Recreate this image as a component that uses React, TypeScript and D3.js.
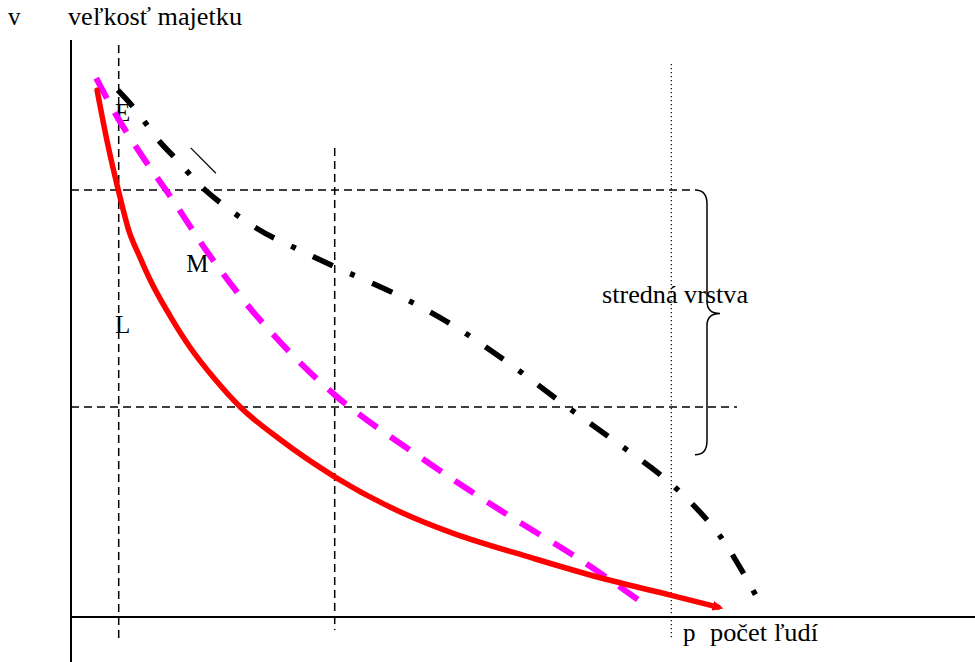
import React from "react";
import * as d3 from "d3";

// Curves: [people, wealth] in chart units (0..100)
const redCurve: [number, number][] = [
  [2.9, 91.3], [4.1, 81.8], [5.3, 73.7], [6.4, 67.1], [7.7, 62.2], [8.8, 58.4],
  [11.0, 52.2], [13.2, 46.8], [16.0, 41.2], [18.8, 36.4], [23.2, 30.8], [29.3, 24.3],
  [36.6, 18.2], [42.1, 14.7], [51.3, 10.2], [58.8, 6.8], [66.6, 3.8], [71.9, 1.7],
];
const magentaCurve: [number, number][] = [
  [2.8, 93.4], [5.2, 86.5], [8.2, 79.2], [11.3, 72.3], [15.4, 62.7], [21.0, 51.5],
  [29.3, 38.5], [38.8, 27.7], [47.7, 18.5], [56.6, 9.9], [64.0, 1.9],
];
const blackCurve: [number, number][] = [
  [5.2, 91.3], [6.9, 88.4], [9.9, 82.3], [11.6, 79.5], [14.9, 74.0], [20.8, 67.2],
  [25.1, 63.8], [29.3, 60.7], [36.3, 55.8], [42.7, 50.3], [48.8, 43.8], [54.9, 36.7],
  [60.4, 30.5], [66.6, 23.2], [71.6, 15.1], [74.3, 8.7], [76.8, 1.7],
];

// Reference lines
const verticalDashed = [5.3, 29.3];
const verticalDotted = [66.7];
const horizontalDashed = [74.0, 36.4];
const braceRange: [number, number] = [74.0, 28.1];
const slashMark: [number, number][] = [[13.3, 81.3], [16.1, 76.9]];

// Labels
const axisYLabel = "veľkosť majetku";
const axisYSymbol = "v";
const axisXSymbol = "p";
const axisXLabel = "počet ľudí";
const middleLabel = "stredná vrstva";
const pointLabels = [
  { text: "E", x: 4.9, y: 86.0 },
  { text: "M", x: 12.8, y: 59.8 },
  { text: "L", x: 4.9, y: 49.2 },
];

const W = 975;
const H = 662;

export default function App() {
  const x = d3.scaleLinear().domain([0, 100]).range([71, 971]);
  const y = d3.scaleLinear().domain([0, 100]).range([617, 40]);
  const smooth = d3
    .line<[number, number]>()
    .x((d) => x(d[0]))
    .y((d) => y(d[1]))
    .curve(d3.curveMonotoneX);
  const cr = d3
    .line<[number, number]>()
    .x((d) => x(d[0]))
    .y((d) => y(d[1]))
    .curve(d3.curveCatmullRom.alpha(0.5));

  const font = "'Times New Roman', 'Liberation Serif', Tinos, serif";
  const ts = { fontFamily: font, fontSize: 25, fill: "#000" } as React.CSSProperties;
  const bTop = y(braceRange[0]);
  const bBot = y(braceRange[1]);
  const bMid = (bTop + bBot) / 2 - 9;
  const bx0 = 695;
  const bx1 = 707;
  const bTip = 720;
  const bracePath = `M${bx0},${bTop} Q${bx1},${bTop} ${bx1},${bTop + 14} L${bx1},${bMid - 12} Q${bx1},${bMid} ${bTip},${bMid} Q${bx1},${bMid} ${bx1},${bMid + 12} L${bx1},${bBot - 14} Q${bx1},${bBot} ${bx0},${bBot}`;

  return (
    <svg
      width={W}
      height={H}
      style={{ position: "absolute", left: 0, top: 0, background: "#fff" }}
    >
      <defs>
        <marker id="arrowRed" viewBox="0 0 10 10" refX="5" refY="5" markerWidth="2" markerHeight="2" orient="auto" markerUnits="strokeWidth">
          <path d="M0,0.5 L10,5 L0,9.5 Z" fill="#ff0000" />
        </marker>
      </defs>
      <rect width={W} height={H} fill="#fff" />

      {/* axes */}
      <line x1={x(0)} x2={x(0)} y1={40} y2={H} stroke="#000" strokeWidth={2} />
      <line x1={x(0)} x2={W} y1={y(0)} y2={y(0)} stroke="#000" strokeWidth={2} />

      {/* reference lines */}
      <line x1={x(verticalDashed[0])} x2={x(verticalDashed[0])} y1={45} y2={641} stroke="#000" strokeWidth={1.5} strokeDasharray="8,5" />
      <line x1={x(verticalDashed[1])} x2={x(verticalDashed[1])} y1={148} y2={630} stroke="#000" strokeWidth={1.5} strokeDasharray="8,5" />
      <line x1={x(verticalDotted[0])} x2={x(verticalDotted[0])} y1={64} y2={640} stroke="#000" strokeWidth={1.2} strokeDasharray="1.3,2.7" />
      <line x1={x(0)} x2={bx0} y1={y(horizontalDashed[0])} y2={y(horizontalDashed[0])} stroke="#000" strokeWidth={1.5} strokeDasharray="8,5" />
      <line x1={x(0)} x2={737} y1={y(horizontalDashed[1])} y2={y(horizontalDashed[1])} stroke="#000" strokeWidth={1.5} strokeDasharray="8,5" />
      <path d={bracePath} fill="none" stroke="#000" strokeWidth={1.5} />
      <line x1={x(slashMark[0][0])} y1={y(slashMark[0][1])} x2={x(slashMark[1][0])} y2={y(slashMark[1][1])} stroke="#000" strokeWidth={1.2} />

      {/* text */}
      <text x={8} y={25} style={ts}>{axisYSymbol}</text>
      <text x={68} y={25} style={ts} textLength={174} lengthAdjust="spacingAndGlyphs">{axisYLabel}</text>
      <text x={602} y={303} style={ts} textLength={146} lengthAdjust="spacingAndGlyphs">{middleLabel}</text>
      <text x={683} y={641} style={ts}>{axisXSymbol}</text>
      <text x={710} y={641} style={ts} textLength={108} lengthAdjust="spacingAndGlyphs">{axisXLabel}</text>
      {pointLabels.map((p) => (
        <text key={p.text} x={x(p.x)} y={y(p.y)} style={ts}>{p.text}</text>
      ))}

      {/* curves */}
      <path d={cr(blackCurve) || ""} fill="none" stroke="#000" strokeWidth={5.5} strokeDasharray="22,19,5,19" />
      <path d={cr(magentaCurve) || ""} fill="none" stroke="#ff00ff" strokeWidth={6} strokeDasharray="23,16" />
      <path d={smooth(redCurve) || ""} fill="none" stroke="#ff0000" strokeWidth={5.5} strokeLinecap="round" markerEnd="url(#arrowRed)" />
    </svg>
  );
}
